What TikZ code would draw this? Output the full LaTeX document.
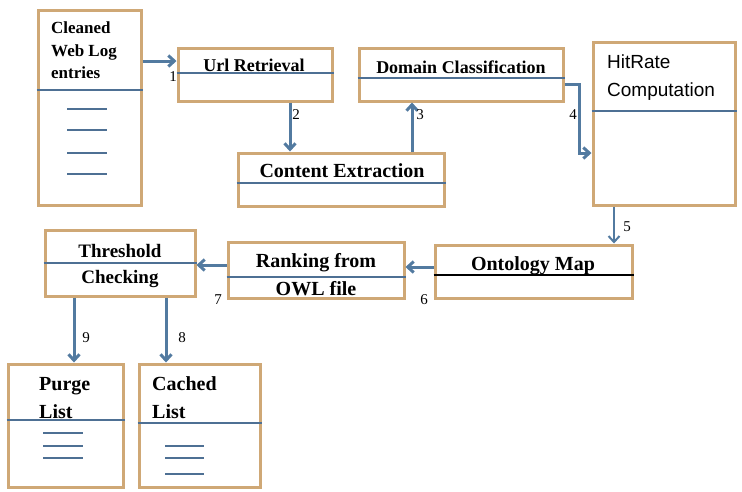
\documentclass[tikz,border=0pt]{standalone}
\usepackage{fontspec}
\setmainfont{Liberation Serif}
\newfontfamily\hitfont{Liberation Sans}
\usetikzlibrary{arrows.meta}
\newcommand{\unitsize}{1pt}
\definecolor{boxtan}{RGB}{207,168,118}
\definecolor{flowblue}{RGB}{82,122,160}
\definecolor{ruleblue}{RGB}{78,112,148}

\begin{document}
\begin{tikzpicture}
\useasboundingbox (0,0) rectangle (742*\unitsize,-491*\unitsize);
\tikzstyle{stage}=[draw=boxtan,
			line width=3*\unitsize,
			rectangle,
			fill=white,
			inner sep=0pt
			]
\tikzstyle{flow}=[draw=flowblue, line width=3*\unitsize, -{Straight Barb[length=6pt,width=11pt]}]
\tikzstyle{rule}=[draw=ruleblue, line width=1.2*\unitsize]
\tikzstyle{stepno}=[font=\fontsize{15}{18}\selectfont, inner sep=0pt]


\node[stage, minimum width=103*\unitsize, minimum height=195*\unitsize] (cleaned) at (89.5*\unitsize,-107.5*\unitsize) {};
        

\node[stage, minimum width=154*\unitsize, minimum height=53*\unitsize] (url) at (255*\unitsize,-74.5*\unitsize) {};
        

\node[stage, minimum width=204*\unitsize, minimum height=53*\unitsize] (domain) at (461*\unitsize,-74.5*\unitsize) {};
        

\node[stage, minimum width=142*\unitsize, minimum height=163*\unitsize] (hitrate) at (664*\unitsize,-123.5*\unitsize) {};
        

\node[stage, minimum width=206*\unitsize, minimum height=53*\unitsize] (content) at (341*\unitsize,-179.5*\unitsize) {};
        

\node[stage, minimum width=197*\unitsize, minimum height=53*\unitsize] (ontology) at (533.5*\unitsize,-271.5*\unitsize) {};
        

\node[stage, minimum width=176*\unitsize, minimum height=56*\unitsize] (ranking) at (316*\unitsize,-270*\unitsize) {};
        

\node[stage, minimum width=150*\unitsize, minimum height=66*\unitsize] (threshold) at (120*\unitsize,-263*\unitsize) {};
        

\node[stage, minimum width=115*\unitsize, minimum height=123*\unitsize] (purge) at (65.5*\unitsize,-425.5*\unitsize) {};
        

\node[stage, minimum width=121*\unitsize, minimum height=123*\unitsize] (cached) at (199.5*\unitsize,-425.5*\unitsize) {};


\draw[rule] (cleaned.west |- 0,-90*\unitsize) -- (cleaned.east |- 0,-90*\unitsize);
\draw[rule] (url.west |- 0,-73*\unitsize) -- (url.east |- 0,-73*\unitsize);
\draw[rule] (domain.west |- 0,-78*\unitsize) -- (domain.east |- 0,-78*\unitsize);
\draw[rule] (hitrate.west |- 0,-111*\unitsize) -- (hitrate.east |- 0,-111*\unitsize);
\draw[rule] (content.west |- 0,-183*\unitsize) -- (content.east |- 0,-183*\unitsize);
\draw[rule, draw=black] (ontology.west |- 0,-275*\unitsize) -- (ontology.east |- 0,-275*\unitsize);
\draw[rule] (ranking.west |- 0,-277*\unitsize) -- (ranking.east |- 0,-277*\unitsize);
\draw[rule] (threshold.west |- 0,-263*\unitsize) -- (threshold.east |- 0,-263*\unitsize);
\draw[rule] (purge.west |- 0,-420*\unitsize) -- (purge.east |- 0,-420*\unitsize);
\draw[rule] (cached.west |- 0,-423*\unitsize) -- (cached.east |- 0,-423*\unitsize);

% list entries
\foreach \ly in {109,130,153,174}
  \draw[rule] (67*\unitsize,-\ly*\unitsize) -- (107*\unitsize,-\ly*\unitsize);
\foreach \ly in {433,446,458}
  \draw[rule] (43*\unitsize,-\ly*\unitsize) -- (83*\unitsize,-\ly*\unitsize);
\foreach \ly in {446,458,474}
  \draw[rule] (165*\unitsize,-\ly*\unitsize) -- (204*\unitsize,-\ly*\unitsize);


\node[anchor=north west, inner sep=0pt, align=left, font=\fontsize{17}{23}\selectfont\bfseries] (cleaned-txt) at (51*\unitsize,-21*\unitsize) {Cleaned\\Web Log\\entries};
        

\node[anchor=base, inner sep=0pt, font=\fontsize{18}{22}\selectfont\bfseries] (url-txt) at (254*\unitsize,-71*\unitsize) {Url Retrieval};
        

\node[anchor=base, inner sep=0pt, font=\fontsize{18}{22}\selectfont\bfseries] (domain-txt) at (461*\unitsize,-73*\unitsize) {Domain Classification};
        

\node[anchor=base, inner sep=0pt, font=\fontsize{20}{24}\selectfont\bfseries] (content-txt) at (342*\unitsize,-177*\unitsize) {Content Extraction};
        

\node[anchor=north west, inner sep=0pt, align=left, font=\fontsize{19}{28}\selectfont\hitfont] (hitrate-txt) at (607*\unitsize,-55*\unitsize) {HitRate\\Computation};
        

\node[anchor=base, inner sep=0pt, font=\fontsize{20}{24}\selectfont\bfseries] (ontology-txt) at (533*\unitsize,-270*\unitsize) {Ontology Map};
        

\node[anchor=north, inner sep=0pt, align=center, font=\fontsize{20}{28}\selectfont\bfseries] (ranking-txt) at (316*\unitsize,-253*\unitsize) {Ranking from\\OWL file};
        

\node[anchor=north, inner sep=0pt, align=center, font=\fontsize{19}{26}\selectfont\bfseries] (threshold-txt) at (120*\unitsize,-244*\unitsize) {Threshold\\Checking};
        

\node[anchor=north west, inner sep=0pt, align=left, font=\fontsize{20}{28}\selectfont\bfseries] (purge-txt) at (39*\unitsize,-377*\unitsize) {Purge\\List};
        

\node[anchor=north west, inner sep=0pt, align=left, font=\fontsize{20}{28}\selectfont\bfseries] (cached-txt) at (152*\unitsize,-376*\unitsize) {Cached\\List};


\draw[flow] (cleaned.east |- 0,-61*\unitsize) -- (url.west |- 0,-61*\unitsize);
\draw[flow] (url.south -| 290*\unitsize,0) -- (content.north -| 290*\unitsize,0);
\draw[flow] (content.north -| 412*\unitsize,0) -- (domain.south -| 412*\unitsize,0);
\draw[flow] (domain.east |- 0,-84*\unitsize) -- (579*\unitsize,-84*\unitsize) -- (579*\unitsize,-153*\unitsize) -- (hitrate.west |- 0,-153*\unitsize);
\draw[flow, line width=2*\unitsize] (hitrate.south -| 614*\unitsize,0) -- (ontology.north -| 614*\unitsize,0);
\draw[flow] (ontology.west |- 0,-267*\unitsize) -- (ranking.east |- 0,-267*\unitsize);
\draw[flow] (ranking.west |- 0,-265*\unitsize) -- (threshold.east |- 0,-265*\unitsize);
\draw[flow] (threshold.south -| 166*\unitsize,0) -- (cached.north -| 166*\unitsize,0);
\draw[flow] (threshold.south -| 74*\unitsize,0) -- (purge.north -| 74*\unitsize,0);


\node[stepno] (n1) at (173*\unitsize,-77*\unitsize) {1};
\node[stepno] (n2) at (296*\unitsize,-115*\unitsize) {2};
\node[stepno] (n3) at (420*\unitsize,-115*\unitsize) {3};
\node[stepno] (n4) at (573*\unitsize,-115*\unitsize) {4};
\node[stepno] (n5) at (627*\unitsize,-227*\unitsize) {5};
\node[stepno] (n6) at (424*\unitsize,-300*\unitsize) {6};
\node[stepno] (n7) at (218*\unitsize,-300*\unitsize) {7};
\node[stepno] (n8) at (182*\unitsize,-338*\unitsize) {8};
\node[stepno] (n9) at (86*\unitsize,-338*\unitsize) {9};

\end{tikzpicture}
\end{document}
